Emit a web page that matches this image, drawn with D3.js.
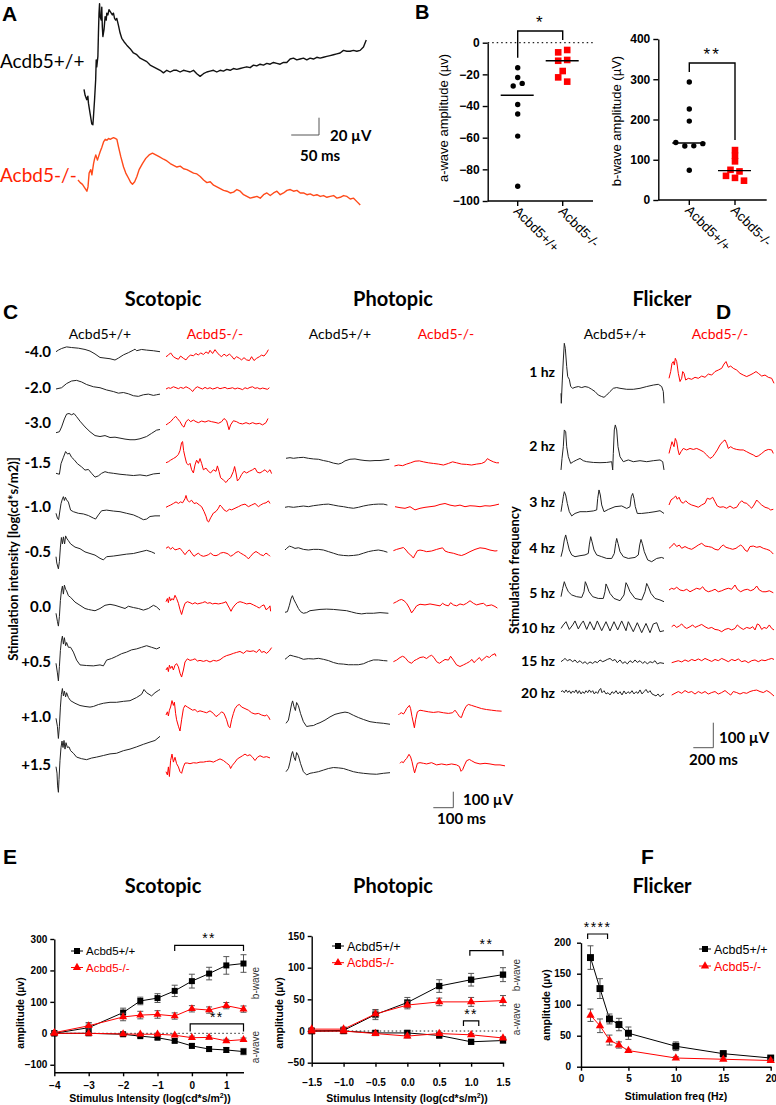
<!DOCTYPE html>
<html><head><meta charset="utf-8">
<script src="https://cdn.jsdelivr.net/npm/d3@7"></script>
<style>body{margin:0;background:#fff}</style>
</head><body>
<script>
// ================= DATA =================
// Panel A traces: flat [ms, µV, ms, µV, ...]
const A_WT = [0,0, 2,-7, 5,-12, 7,-8, 8,-16, 11,-28, 14,-40, 16,-41, 17,-32, 19,-12, 21,11, 22,34, 23,26, 25,38, 26,65, 27,88, 28,99, 29,84, 31,80, 32,95, 33,72, 34,61, 36,69, 38,84, 40,80, 41,88, 43,86, 45,92, 47,90, 49,88, 51,86, 53,88, 55,82, 57,80, 59,82, 62,74, 65,65, 68,59, 72,55, 77,51, 83,47, 89,42, 95,40, 101,36, 107,34, 113,32, 119,28, 125,26, 131,24, 137,22, 143,19, 149,22, 155,20, 161,22, 167,22, 173,20, 179,22, 185,21, 191,20, 197,22, 203,18, 209,15, 215,18, 221,20, 227,21, 233,22, 239,20, 245,22, 251,21, 257,23, 263,22, 269,24, 275,23, 281,24, 287,25, 293,26, 299,25, 305,28, 311,27, 317,29, 323,28, 329,30, 335,29, 341,31, 347,30, 353,29, 359,31, 365,31, 371,35, 377,36, 383,34, 389,35, 395,36, 401,34, 407,36, 413,35, 419,37, 425,36, 431,37, 437,38, 443,39, 449,40, 455,41, 461,42, 467,45, 473,44, 479,44, 485,45, 491,44, 497,45, 503,49, 508,57];
const A_KO = [0,0, 4,-3, 8,-5, 13,-10, 16,-13, 18,-8, 20,8, 23,12, 25,6, 28,19, 30,25, 32,29, 35,23, 37,27, 40,33, 43,38, 46,44, 49,47, 52,46, 55,48, 58,47, 61,48, 64,49, 67,48, 70,47, 73,38, 77,27, 82,15, 86,8, 91,2, 95,-3, 98,-5, 102,-2, 106,4, 110,12, 116,19, 122,25, 128,29, 134,31, 140,29, 146,27, 154,24, 160,22, 166,19, 172,17, 178,15, 184,16, 190,13, 196,12, 202,10, 208,8, 214,7, 220,4, 226,0, 232,-3, 238,-2, 244,-6, 250,-8, 256,-10, 262,-12, 268,-13, 274,-15, 280,-14, 286,-11, 292,-13, 298,-17, 304,-19, 310,-21, 316,-20, 322,-19, 328,-21, 334,-17, 340,-15, 346,-18, 352,-15, 358,-13, 364,-17, 370,-15, 376,-12, 382,-11, 388,-13, 394,-12, 400,-15, 406,-15, 412,-17, 418,-16, 424,-18, 430,-17, 436,-19, 442,-18, 448,-20, 454,-19, 460,-18, 466,-21, 472,-20, 478,-18, 484,-19, 490,-22, 496,-21, 502,-25, 508,-29];

// Panel B values
const B_CATS = ["Acbd5+/+", "Acbd5-/-"];
const B_A_WT = [-15.8, -22, -27.4, -25.7, -39, -45, -59, -90.7];
const B_A_KO = [-6.1, -4.6, -11.4, -10.9, -17.9, -21.9, -24.6];
const B_B_WT = [293, 226, 196, 143, 134, 134.5, 140, 74];
const B_B_KO = [124, 110, 96, 75, 71, 60, 55, 48];

// Panel C rows
const C_SCO_ROWS = ["-4.0","-2.0","-3.0","-1.5","-1.0","-0.5","0.0","+0.5","+1.0","+1.5"];
const C_SCO_WT = [
 [0,0, 12,10, 28,20, 53,30, 78,26, 112,22, 145,14, 170,4, 195,-14, 220,-36, 245,-40, 270,-44, 295,-52, 312,-40, 337,-20, 362,-6, 387,10, 395,16, 403,6, 428,14, 453,10, 487,6, 520,0],
 [0,0, 28,8, 53,34, 78,50, 103,54, 128,44, 153,28, 187,14, 220,8, 253,-6, 287,-16, 312,-26, 337,-22, 362,-30, 387,-42, 412,-46, 437,-36, 462,-32, 487,-40, 503,-36, 520,-32],
 [0,0, 17,6, 28,36, 42,86, 53,116, 65,120, 78,112, 90,120, 103,100, 120,72, 145,36, 170,6, 195,-18, 220,-24, 245,-18, 270,-30, 295,-28, 320,-34, 345,-40, 370,-44, 395,-44, 420,-38, 453,-24, 478,-4, 503,16, 520,20],
 [0,0, 17,-6, 25,60, 37,100, 48,136, 58,120, 67,126, 78,100, 90,86, 107,60, 128,40, 145,20, 162,24, 178,0, 195,-24, 212,-16, 228,0, 245,10, 262,4, 287,0, 320,-6, 353,-10, 387,-14, 420,-10, 453,-16, 487,-4, 520,0],
 [0,0, 7,-30, 13,-40, 20,20, 25,60, 32,90, 37,104, 42,80, 47,100, 53,84, 62,70, 73,20, 87,10, 112,0, 137,-4, 162,-14, 187,-30, 198,-36, 212,-10, 228,16, 253,20, 287,14, 320,10, 353,0, 387,-10, 412,-24, 437,-40, 453,-36, 470,-20, 495,-16, 520,-16],
 [0,0, 4,-40, 12,-76, 17,-30, 22,60, 27,120, 32,80, 37,124, 43,80, 48,130, 53,116, 62,100, 73,80, 95,60, 120,50, 145,30, 170,20, 195,10, 220,-10, 237,-20, 253,0, 287,4, 320,10, 353,16, 387,20, 420,30, 453,40, 478,30, 495,20],
 [0,0, 7,-50, 12,-80, 17,-20, 22,80, 27,140, 32,170, 37,120, 42,176, 48,150, 53,140, 62,110, 73,100, 95,70, 120,50, 145,30, 162,24, 178,20, 195,16, 220,30, 245,50, 270,56, 295,50, 320,40, 345,30, 362,44, 387,36, 412,30, 437,20, 462,30, 487,50, 503,40, 520,20],
 [0,0, 7,-60, 12,-110, 17,-20, 22,80, 27,140, 32,170, 37,120, 42,160, 48,110, 53,130, 62,100, 73,100, 87,70, 103,20, 120,-10, 153,-14, 187,-16, 220,-10, 237,-16, 253,20, 278,30, 303,44, 328,60, 353,70, 378,84, 403,90, 428,100, 453,110, 478,100, 503,90, 520,100],
 [0,0, 7,-50, 12,-126, 17,-50, 22,70, 27,150, 32,186, 37,140, 42,170, 48,134, 53,160, 62,130, 73,110, 95,94, 120,80, 145,74, 170,70, 187,74, 212,86, 237,94, 270,100, 303,100, 337,106, 370,110, 403,130, 428,150, 440,180, 453,160, 478,140, 495,160, 512,174, 520,180],
 [0,0, 5,-40, 8,-120, 12,-160, 15,-80, 20,40, 25,120, 30,160, 35,120, 40,164, 45,110, 50,150, 57,120, 65,124, 73,100, 87,84, 103,60, 128,50, 153,44, 178,54, 203,60, 237,70, 270,80, 303,84, 337,100, 370,110, 403,124, 437,140, 470,154, 495,164, 520,190]
];
const C_SCO_KO = [
 [0,0, 12,10, 23,24, 37,0, 50,-10, 62,-16, 73,4, 87,-10, 100,-20, 112,0, 123,10, 137,6, 150,20, 162,10, 173,24, 187,14, 200,30, 212,20, 220,40, 233,20, 245,44, 253,30, 267,10, 278,0, 290,16, 303,4, 317,16, 328,4, 340,-16, 353,0, 367,-10, 378,-20, 390,-6, 403,-20, 417,-24, 428,0, 440,-24, 453,-10, 467,0, 478,10, 490,4, 503,24, 512,44],
 [0,0, 12,8, 23,4, 37,14, 50,8, 62,2, 73,10, 87,4, 100,14, 112,6, 123,-2, 133,-16, 145,4, 157,14, 170,6, 183,0, 195,10, 207,2, 220,8, 233,0, 245,4, 257,10, 270,2, 283,6, 295,10, 307,2, 320,4, 333,8, 345,0, 357,6, 370,2, 383,-4, 395,8, 407,2, 420,10, 433,14, 445,4, 457,8, 470,0, 483,6, 495,2, 507,-2, 517,8],
 [0,-10, 12,0, 23,10, 37,30, 48,44, 57,30, 70,10, 82,-16, 90,-24, 100,10, 112,24, 123,10, 137,20, 150,10, 162,4, 178,14, 195,8, 212,16, 228,10, 245,6, 262,0, 278,10, 290,30, 303,16, 315,-40, 323,-10, 337,16, 353,10, 367,0, 383,-4, 400,4, 417,-4, 433,4, 450,-4, 467,0, 483,-10, 500,4, 510,30],
 [0,0, 12,6, 23,16, 37,26, 50,36, 62,52, 70,76, 78,126, 83,132, 88,76, 95,36, 103,-4, 112,-14, 120,-4, 128,-44, 137,-64, 145,-14, 153,16, 162,-4, 170,26, 178,-4, 187,-44, 200,-34, 212,-54, 223,-64, 237,-44, 250,-54, 257,-20, 265,-54, 273,-94, 287,-108, 300,-124, 312,-104, 323,-94, 337,-54, 343,-24, 350,-64, 357,-114, 367,-100, 378,-74, 390,-54, 403,-64, 417,-54, 433,-44, 445,-34, 457,-60, 470,-64, 483,-54, 495,-44, 507,-60, 520,-44, 528,-68],
 [0,0, 12,8, 23,14, 37,24, 50,34, 62,24, 73,34, 83,28, 95,54, 100,74, 107,44, 117,34, 128,44, 140,24, 153,28, 167,14, 178,4, 190,-26, 200,-56, 207,-86, 213,-92, 223,-66, 237,-36, 250,-26, 262,-6, 270,14, 278,4, 290,-16, 303,-26, 317,-12, 328,-16, 345,-6, 362,4, 378,14, 395,20, 412,4, 428,14, 445,24, 462,4, 473,14, 487,24, 500,28, 512,40, 520,24],
 [0,0, 12,10, 23,-6, 33,6, 45,-10, 57,-6, 70,0, 83,-20, 95,-40, 107,-20, 117,-10, 128,-30, 140,-50, 150,-40, 162,-30, 173,-44, 187,-50, 200,-46, 212,-40, 223,-30, 237,-44, 250,-46, 262,-40, 273,-30, 287,-26, 300,-30, 312,-36, 323,-50, 337,-40, 350,-26, 362,-20, 373,-30, 387,-40, 400,-50, 412,-66, 423,-50, 437,-30, 450,-20, 462,-30, 473,-40, 487,-46, 500,-30, 512,-40, 520,-50],
 [0,0, 7,20, 12,-6, 17,30, 23,6, 30,20, 37,10, 45,40, 53,20, 62,-10, 70,-50, 78,-80, 87,-40, 95,-10, 107,0, 120,-6, 133,-14, 145,-6, 157,-14, 170,-10, 183,-6, 195,0, 207,-10, 220,-6, 233,-14, 245,-10, 262,-14, 278,-10, 290,-6, 300,0, 308,-20, 317,-40, 325,-60, 333,-40, 345,-20, 357,-6, 370,0, 387,-6, 403,-14, 420,-10, 437,-20, 453,-30, 467,-40, 478,-26, 490,-20, 500,-50, 512,-40, 520,-26, 523,-60],
 [0,0, 7,16, 12,-10, 17,30, 23,10, 30,24, 37,0, 45,30, 53,40, 62,20, 70,-20, 78,-44, 87,0, 95,50, 107,70, 120,60, 133,64, 145,70, 157,56, 170,60, 187,54, 203,60, 220,50, 237,60, 253,56, 270,64, 287,80, 303,90, 320,96, 337,104, 353,110, 370,116, 387,104, 403,120, 420,116, 437,120, 453,110, 467,130, 478,110, 490,116, 503,104, 517,120, 528,140],
 [0,0, 7,20, 12,-6, 17,30, 23,50, 30,90, 37,60, 42,80, 48,10, 53,-30, 62,-70, 70,-100, 78,-30, 87,40, 95,60, 107,50, 120,40, 133,30, 145,34, 157,20, 170,26, 187,20, 203,14, 220,26, 237,10, 250,-10, 262,0, 270,10, 278,20, 290,10, 303,-30, 312,-70, 320,-80, 328,-30, 337,10, 345,40, 357,60, 367,66, 378,50, 395,40, 412,30, 428,14, 445,6, 462,10, 478,0, 495,-6, 503,0, 512,-10, 520,-30],
 [0,0, 7,-20, 12,30, 17,-30, 23,70, 30,110, 37,60, 45,90, 53,50, 62,30, 70,0, 78,-10, 87,30, 95,54, 107,54, 120,50, 137,56, 153,54, 170,60, 187,60, 203,64, 220,66, 237,60, 253,70, 270,80, 287,70, 303,54, 317,40, 323,20, 332,40, 345,60, 357,80, 370,90, 383,100, 395,110, 407,100, 420,106, 433,90, 445,70, 457,90, 470,100, 487,90, 503,94, 520,86]
];
const C_PHO_WT = [
 [5,0, 25,4, 42,0, 67,4, 92,6, 117,0, 142,-4, 167,-6, 192,-14, 217,-20, 242,-30, 267,-36, 283,-30, 300,-16, 325,-6, 350,-4, 375,-10, 400,-14, 425,-16, 450,-14, 475,-14, 500,-10, 522,-6],
 [0,0, 17,4, 42,0, 67,4, 92,8, 117,4, 142,10, 167,14, 192,18, 217,20, 242,14, 267,8, 292,4, 317,-2, 342,-6, 367,0, 392,8, 417,14, 442,18, 467,20, 492,20, 512,14],
 [0,0, 8,10, 22,24, 33,20, 50,10, 67,14, 92,4, 117,0, 142,4, 167,4, 192,0, 217,-10, 242,-20, 267,-30, 292,-34, 317,-36, 342,-34, 367,-30, 392,-20, 417,-10, 442,-4, 467,0, 492,-6, 512,-14],
 [0,0, 12,4, 22,44, 30,84, 37,104, 45,78, 55,54, 67,24, 78,4, 92,-6, 108,-2, 125,10, 150,14, 175,18, 208,20, 242,18, 275,14, 308,10, 333,2, 358,-6, 383,-10, 408,-6, 442,-6, 475,-2, 517,-6],
 [0,0, 12,12, 25,26, 42,20, 67,12, 92,0, 117,4, 142,2, 167,6, 192,0, 217,-8, 242,-20, 267,-28, 292,-30, 317,-34, 342,-34, 367,-34, 392,-28, 417,-14, 442,-4, 467,-4, 492,-8, 512,-10],
 [5,0, 17,20, 25,70, 33,120, 38,140, 45,104, 52,80, 58,130, 67,110, 78,60, 92,10, 108,-20, 125,-16, 142,-14, 158,-4, 175,4, 200,20, 225,40, 250,56, 275,64, 300,70, 317,66, 342,50, 367,36, 392,24, 425,10, 458,4, 492,0, 525,-6],
 [5,0, 17,20, 25,60, 33,110, 38,126, 45,90, 52,70, 58,120, 67,100, 78,50, 92,0, 108,-20, 125,-10, 142,-6, 167,0, 192,10, 217,20, 242,26, 267,24, 292,20, 317,10, 342,0, 367,-6, 392,-10, 425,-14, 458,-16, 492,-10, 525,-6]
];
const C_PHO_KO = [
 [7,0, 27,6, 48,2, 68,12, 88,20, 110,30, 132,32, 152,26, 177,20, 202,16, 227,12, 252,6, 277,16, 298,26, 318,20, 343,12, 368,10, 393,6, 418,12, 443,16, 460,26, 472,46, 485,36, 502,26, 518,20, 530,20],
 [10,0, 35,-6, 60,-10, 85,0, 110,-20, 135,-10, 160,-4, 185,0, 210,4, 235,14, 260,20, 285,10, 310,4, 335,10, 360,0, 385,6, 410,4, 435,0, 460,6, 485,4, 510,10, 530,16],
 [2,0, 18,8, 35,14, 52,20, 65,4, 77,-16, 88,-26, 102,-46, 110,-26, 122,0, 135,4, 152,0, 168,-6, 193,-2, 218,8, 235,14, 248,18, 260,-2, 277,-10, 302,-16, 327,-26, 343,-30, 360,-22, 385,-6, 410,8, 435,18, 460,14, 485,4, 510,-2, 522,0],
 [2,0, 18,10, 32,20, 43,24, 55,16, 68,0, 82,-30, 93,-60, 105,-40, 118,-16, 135,-6, 160,-10, 185,-4, 210,-10, 235,-16, 248,0, 260,-10, 277,-16, 288,4, 302,-10, 318,-16, 335,-4, 352,-10, 368,0, 385,16, 402,0, 418,-10, 435,-4, 452,0, 468,-16, 493,-10, 510,-20, 522,-30],
 [2,0, 18,10, 35,26, 48,34, 60,26, 77,0, 93,-10, 105,6, 118,14, 135,26, 152,30, 168,20, 182,34, 193,40, 205,26, 218,0, 232,-10, 248,4, 260,14, 277,10, 288,34, 302,10, 318,-20, 335,-30, 352,-20, 368,-10, 382,0, 395,14, 405,-6, 418,10, 432,26, 443,6, 455,20, 468,34, 482,26, 493,40, 510,50, 515,34],
 [27,0, 35,10, 43,14, 52,6, 60,20, 68,40, 82,60, 88,40, 95,-10, 102,-50, 107,-80, 113,-30, 122,20, 135,30, 152,26, 177,20, 202,16, 227,20, 252,14, 277,10, 298,14, 310,30, 322,10, 332,-10, 342,-16, 352,20, 365,54, 377,66, 393,60, 418,50, 443,40, 468,34, 493,30, 518,26, 543,24],
 [35,0, 43,10, 52,4, 60,20, 68,30, 80,56, 88,40, 95,10, 102,-30, 108,-60, 115,-30, 122,0, 135,4, 152,0, 168,-4, 193,4, 218,-10, 243,-4, 268,-10, 293,-4, 318,-10, 332,-20, 340,-50, 348,-40, 358,-10, 368,16, 382,24, 393,16, 410,4, 435,-4, 460,0, 485,-4, 510,-10, 535,-10, 560,-16]
];

// Panel D flicker
const D_ROWS = ["1 hz","2 hz","3 hz","4 hz","5 hz","10 hz","15 hz","20 hz"];
const D_WT = [
 [0,-20, 3,-60, 13,33, 23,113, 33,180, 43,160, 57,87, 67,47, 83,36, 97,7, 117,0, 140,4, 173,7, 207,3, 240,7, 273,4, 307,-4, 340,-13, 373,-27, 407,-33, 430,-36, 457,-27, 490,-13, 523,0, 557,3, 590,0, 657,-4, 723,-4, 790,0, 857,7, 923,13, 973,16, 1007,7, 1023,-13, 1030,-60],
 [0,-33, 10,13, 23,60, 33,127, 47,120, 57,60, 73,20, 97,-7, 123,0, 157,7, 190,13, 223,4, 257,0, 323,-3, 390,-4, 457,-3, 507,0, 517,-33, 523,33, 533,127, 543,147, 557,127, 570,60, 590,20, 623,0, 673,7, 723,0, 790,4, 857,0, 923,4, 990,7, 1017,0, 1030,-33],
 [0,0, 13,33, 23,60, 33,80, 47,67, 63,33, 83,0, 107,-17, 140,-7, 190,0, 257,0, 323,3, 357,7, 367,53, 380,87, 393,67, 407,27, 430,0, 473,9, 540,20, 607,23, 657,13, 690,20, 703,60, 717,73, 730,53, 743,20, 763,-7, 807,-7, 873,-4, 940,0, 990,4, 1030,-7],
 [0,0, 17,27, 33,67, 47,87, 63,60, 83,27, 107,7, 140,0, 190,4, 240,7, 273,13, 283,47, 297,80, 310,60, 330,27, 357,7, 407,0, 457,-7, 507,-7, 533,13, 547,53, 557,73, 570,53, 590,20, 623,0, 673,-7, 740,-3, 773,7, 787,47, 800,69, 813,53, 833,20, 867,-13, 907,-20, 957,-7, 1007,-3, 1030,-7],
 [0,0, 17,33, 33,60, 50,40, 73,20, 107,7, 157,0, 207,-3, 230,20, 243,60, 257,47, 280,20, 317,0, 373,-7, 423,-7, 440,20, 450,51, 463,40, 490,13, 530,-7, 590,-16, 630,7, 650,56, 663,47, 690,20, 740,-7, 807,-13, 840,20, 857,53, 873,40, 900,13, 940,-7, 990,-13, 1030,-20],
 [0,-7, 23,7, 50,20, 83,-11, 117,7, 140,23, 173,-9, 200,11, 223,23, 257,-11, 290,20, 330,-13, 363,23, 407,-16, 450,20, 490,-17, 530,20, 567,-13, 607,23, 650,-16, 673,20, 723,-20, 763,16, 807,-24, 850,13, 890,-24, 923,11, 957,16, 990,-20, 1030,-16],
 [0,0, 23,7, 40,13, 63,4, 90,9, 117,0, 140,7, 163,-4, 190,4, 217,-7, 240,0, 263,-9, 290,-1, 317,-7, 340,1, 363,-4, 390,7, 417,0, 440,4, 463,9, 490,13, 517,4, 540,9, 563,-4, 590,7, 617,-7, 640,0, 663,-9, 690,4, 717,-4, 740,7, 763,-3, 790,4, 817,-7, 840,1, 863,-9, 890,0, 917,-4, 940,4, 963,-9, 990,-4, 1030,-7],
 [0,0, 17,4, 33,-4, 50,7, 67,-3, 83,4, 100,-7, 117,3, 133,-4, 150,7, 167,-7, 183,4, 200,-9, 217,0, 233,-7, 250,4, 267,-4, 283,7, 300,-3, 317,4, 333,-9, 350,0, 367,-7, 383,7, 397,13, 410,-4, 430,4, 450,-9, 470,-4, 490,-13, 510,0, 530,-7, 550,4, 570,-9, 590,0, 610,-13, 630,3, 650,-9, 670,0, 690,-7, 710,4, 730,-9, 750,0, 770,-7, 790,7, 810,-9, 830,0, 850,9, 870,-4, 890,4, 910,-9, 930,-13, 950,-17, 970,-9, 990,-20, 1010,-13, 1030,-9]
];
const D_KO = [
 [0,0, 17,27, 30,60, 43,67, 53,53, 63,80, 77,67, 93,20, 110,-13, 127,0, 137,27, 150,20, 167,-7, 193,0, 227,-4, 260,4, 293,0, 327,9, 360,4, 393,17, 427,13, 460,27, 493,33, 527,40, 550,57, 570,67, 593,44, 617,49, 643,40, 677,33, 710,20, 743,13, 777,7, 810,13, 843,20, 870,27, 893,20, 927,9, 960,13, 993,4, 1027,0, 1050,-20],
 [0,-7, 17,20, 30,40, 50,20, 63,53, 77,40, 90,7, 103,-13, 120,0, 143,13, 177,7, 210,13, 243,9, 277,13, 310,7, 343,0, 377,-13, 410,-27, 437,-20, 460,-7, 483,7, 510,27, 537,40, 560,47, 577,33, 593,13, 617,20, 643,13, 677,9, 710,7, 743,7, 777,0, 810,-7, 843,-13, 870,-20, 893,-17, 927,-7, 960,4, 993,9, 1027,7, 1043,-7],
 [0,0, 20,20, 43,27, 67,36, 83,23, 100,31, 120,13, 143,7, 167,17, 193,7, 227,0, 260,-4, 293,-9, 327,0, 360,7, 383,27, 410,23, 437,31, 460,13, 483,-4, 510,-9, 543,-7, 577,-13, 610,-4, 643,-13, 677,-9, 703,7, 727,17, 750,9, 777,7, 803,-4, 827,-13, 850,0, 877,20, 903,9, 927,0, 960,-9, 993,-13, 1017,-20, 1043,-17],
 [0,0, 27,9, 50,20, 77,7, 103,13, 127,0, 160,7, 193,0, 227,-4, 260,4, 293,13, 327,20, 360,9, 393,7, 427,4, 460,-4, 493,-7, 527,9, 543,13, 570,4, 603,0, 637,-4, 670,0, 693,7, 717,13, 737,7, 760,-7, 783,-13, 810,7, 843,9, 877,4, 910,7, 943,0, 977,-4, 1010,-9, 1043,-23],
 [0,0, 27,7, 50,3, 77,11, 110,0, 143,-3, 177,3, 210,-7, 243,0, 277,7, 310,3, 337,13, 360,0, 393,-7, 427,-3, 460,3, 493,-7, 527,-3, 560,3, 593,7, 627,3, 660,20, 683,3, 717,-7, 750,0, 783,3, 817,-3, 850,3, 877,16, 903,0, 937,-7, 970,-7, 1003,-3, 1043,-11],
 [27,0, 50,7, 77,-3, 103,3, 127,11, 150,0, 177,-7, 210,0, 237,7, 260,-3, 293,3, 327,9, 360,0, 393,-7, 427,-3, 460,-11, 493,-13, 527,-20, 560,-11, 593,-7, 627,-13, 660,-7, 683,7, 710,-3, 743,-11, 777,-3, 810,-7, 837,0, 860,-13, 883,11, 903,7, 927,-11, 950,-3, 977,-7, 1003,7, 1027,-7, 1050,-13],
 [27,-4, 60,0, 93,4, 127,-1, 160,7, 193,1, 227,9, 260,4, 293,11, 327,4, 360,13, 393,7, 427,1, 460,9, 493,4, 527,13, 560,7, 593,0, 627,9, 660,4, 693,11, 727,0, 760,4, 793,-4, 827,4, 860,7, 893,0, 927,7, 960,4, 993,9, 1027,13, 1050,9],
 [27,-7, 60,0, 93,7, 127,0, 160,11, 193,3, 227,7, 260,-3, 293,7, 327,0, 360,7, 393,-3, 427,3, 460,7, 493,-3, 527,3, 560,11, 593,0, 617,-7, 643,7, 677,3, 710,-3, 743,3, 777,0, 810,7, 843,11, 877,13, 910,7, 943,3, 977,11, 1010,3, 1050,-11]
];

// Panel E/F summary data
const SCO_X = [-4,-3,-2,-1.5,-1,-0.5,0,0.5,1,1.5];
const SCO_WT_B = [0,18,66,103,112,135,166,190,216,222];
const SCO_WT_B_E = [3,15,14,12,14,18,22,20,28,28];
const SCO_KO_B = [2,24,52,58,60,55,78,74,88,77];
const SCO_KO_B_E = [3,10,12,12,12,10,10,10,10,10];
const SCO_WT_A = [0,0,-3,-9,-14,-24,-40,-50,-53,-58];
const SCO_WT_A_E = [2,3,3,4,5,6,7,8,8,10];
const SCO_KO_A = [0,0,-2,-3,-3,-6,-14,-13,-24,-20];
const SCO_KO_A_E = [2,2,3,3,3,4,5,5,5,5];

const PHO_X = [-1.5,-1,-0.5,0,0.5,1,1.5];
const PHO_WT_B = [0,1,26,45,71,81,89];
const PHO_WT_B_E = [2,5,8,8,10,10,11];
const PHO_KO_B = [3,3,27,41,46,46,48];
const PHO_KO_B_E = [2,3,6,6,6,7,8];
const PHO_WT_A = [0,0,-3,-3,-7,-17,-15];
const PHO_WT_A_E = [2,2,3,4,4,3,3];
const PHO_KO_A = [0,0,-4,-8,-4,-6,-11];
const PHO_KO_A_E = [2,2,2,3,2,2,2];

const FLK_X = [1,2,3,4,5,10,15,20];
const FLK_WT = [176,126,77,68,54,33,21,14];
const FLK_WT_E = [19,16,8,10,10,7,5,3];
const FLK_KO = [83,66,43,35,26,14,12,10];
const FLK_KO_E = [10,11,8,5,2,2,2,2];

// ================= DRAWING =================
const F_ARIAL = "'Liberation Sans', Arial, sans-serif";
const F_CAL = "Lato, 'Open Sans', sans-serif";
const RED = "#ff0000";
const svg = d3.select("body").append("svg").attr("width",776).attr("height",1105);

function txt(x, y, s, o = {}) {
  const t = svg.append("text").attr("x", x).attr("y", y).text(s)
    .attr("font-family", o.ff || F_CAL).attr("font-size", o.fs || 14)
    .attr("font-weight", o.fw || "normal").attr("fill", o.fill || "#000")
    .attr("text-anchor", o.anchor || "start");
  if (o.rot) t.attr("transform", `rotate(${o.rot},${x},${y})`);
  if (o.ls) t.attr("letter-spacing", o.ls);
  return t;
}
const pairs = arr => d3.range(0, arr.length, 2).map(i => [arr[i], arr[i + 1]]);
function trace(arr, xs, ys, x0, y0, color, w) {
  svg.append("path").datum(pairs(arr))
    .attr("d", d3.line().x(d => x0 + xs(d[0])).y(d => y0 + ys(d[1])))
    .attr("fill", "none").attr("stroke", color).attr("stroke-width", w || 1)
    .attr("stroke-linejoin", "round");
}
function scaleBar(cx, cy, xs, ys, tv, ta, lab1, lab2, l1, l2, fs) {
  svg.append("path").attr("d", `M${cx - xs(tv)},${cy}H${cx}V${cy + ys(ta)}`)
    .attr("fill", "none").attr("stroke", "#555").attr("stroke-width", 1);
  txt(l1[0], l1[1], lab1, {fs: fs, fw: "bold"});
  txt(l2[0], l2[1], lab2, {fs: fs, fw: "bold"});
}

// ---------- Panel A ----------
txt(2, 21, "A", {ff: F_ARIAL, fs: 21, fw: "bold"});
txt(0, 68, "Acdb5+/+", {fs: 19});
txt(0, 182, "Acbd5-/-", {fs: 19, fill: "#ff2200"});
const xsA = d3.scaleLinear().domain([0, 500]).range([0, 277.8]);
const ysA = d3.scaleLinear().domain([0, 20]).range([0, -17.3]);
trace(A_WT, xsA, ysA, 84, 89.3, "#111", 1.4);
trace(A_KO, xsA, ysA, 78, 180, "#ff4a1a", 1.4);
scaleBar(319, 135, xsA, ysA, 50, 20, "20 µV", "50 ms", [330, 141], [300, 161], 15);

// ---------- Panel B ----------
txt(415, 19, "B", {ff: F_ARIAL, fs: 20, fw: "bold"});
function dodge(vals, ys, cx, step, thr) {
  const idx = vals.map((v, i) => i).sort((a, b) => ys(vals[a]) - ys(vals[b]));
  const clusters = []; let cur = [idx[0]];
  for (let k = 1; k < idx.length; k++) {
    const i = idx[k];
    if (Math.abs(ys(vals[i]) - ys(vals[cur[0]])) < thr) cur.push(i);
    else { clusters.push(cur); cur = [i]; }
  }
  clusters.push(cur);
  const out = [];
  clusters.forEach(c => { c.sort((a, b) => a - b); c.forEach((i, j) => out[i] = cx + (j - (c.length - 1) / 2) * step); });
  return out;
}
function scatterPanel(o) {
  const g = svg.append("g");
  const ys = o.ys, cx = d3.scalePoint().domain(B_CATS).range(o.cxr);
  const yb = ys.range()[0];
  if (o.zero) g.append("line").attr("x1", o.ax).attr("x2", o.axEnd).attr("y1", ys(0)).attr("y2", ys(0))
    .attr("stroke", "#222").attr("stroke-width", 1.2).attr("stroke-dasharray", "1.5,3");
  const ay = g.append("g").attr("transform", `translate(${o.ax},0)`)
    .call(d3.axisLeft(ys).tickValues(o.yT).tickSize(5).tickPadding(3).tickSizeOuter(0));
  ay.selectAll("path,line").attr("stroke", "#000").attr("stroke-width", 1.4);
  ay.selectAll("text").attr("font-family", F_ARIAL).attr("font-size", 12).attr("font-weight", "bold").attr("fill", "#000");
  g.append("line").attr("x1", o.ax).attr("x2", o.axEnd).attr("y1", yb).attr("y2", yb).attr("stroke", "#000").attr("stroke-width", 1.4);
  B_CATS.forEach(c => {
    g.append("line").attr("x1", cx(c)).attr("x2", cx(c)).attr("y1", yb).attr("y2", yb + 5).attr("stroke", "#000").attr("stroke-width", 1.4);
    g.append("text").attr("x", cx(c) - 5).attr("y", yb + 11).text(c)
      .attr("transform", `rotate(45,${cx(c) - 5},${yb + 11})`)
      .attr("font-family", F_ARIAL).attr("font-size", 13.5).attr("fill", "#000");
  });
  // WT dots
  const wx = dodge(o.wt, ys, cx(B_CATS[0]), 9, 5);
  o.wt.forEach((v, i) => g.append("circle").attr("cx", wx[i]).attr("cy", ys(v)).attr("r", 2.7).attr("fill", "#000"));
  const kx = dodge(o.ko, ys, cx(B_CATS[1]), 9, 5);
  o.ko.forEach((v, i) => g.append("rect").attr("x", kx[i] - 3.3).attr("y", ys(v) - 3.3).attr("width", 6.6).attr("height", 6.6).attr("fill", RED));
  // medians
  [[o.wt, B_CATS[0]], [o.ko, B_CATS[1]]].forEach(([arr, c]) => {
    const m = d3.median(arr);
    g.append("line").attr("x1", cx(c) - 17).attr("x2", cx(c) + 16).attr("y1", ys(m)).attr("y2", ys(m)).attr("stroke", "#000").attr("stroke-width", 1.4);
  });
  // bracket
  const l1 = ys(d3.max(o.wt)) - 10, l2 = ys(d3.max(o.ko)) - 10, top = Math.min(l1, l2) - 9;
  g.append("path").attr("d", `M${cx(B_CATS[0])},${l1}V${top}H${cx(B_CATS[1])}V${l2}`)
    .attr("fill", "none").attr("stroke", "#000").attr("stroke-width", 1.4);
  g.append("text").attr("x", (cx(B_CATS[0]) + cx(B_CATS[1])) / 2).attr("y", top - 3).text(o.star)
    .attr("text-anchor", "middle").attr("font-family", F_ARIAL).attr("font-size", 17).attr("letter-spacing", 2);
  // y title
  g.append("text").attr("transform", `translate(${o.tx},${o.ty}) rotate(-90)`).text(o.title)
    .attr("text-anchor", "middle").attr("font-family", F_ARIAL).attr("font-size", 13).attr("fill", "#000");
}
scatterPanel({ys: d3.scaleLinear().domain([-100, 0]).range([201, 42.7]), ax: 487.7, axEnd: 593, cxr: [517.7, 562.7],
  yT: [0, -20, -40, -60, -80, -100], wt: B_A_WT, ko: B_A_KO, zero: true, star: "*", title: "a-wave amplitude (µv)", tx: 448, ty: 118});
scatterPanel({ys: d3.scaleLinear().domain([0, 400]).range([200, 39]), ax: 658.3, axEnd: 766.7, cxr: [689.3, 735],
  yT: [0, 100, 200, 300, 400], wt: B_B_WT, ko: B_B_KO, zero: false, star: "**", title: "b-wave amplitude (µV)", tx: 621, ty: 121});

// ---------- Panel C ----------
txt(3, 319, "C", {ff: F_ARIAL, fs: 21, fw: "bold"});
txt(163, 306, "Scotopic", {fs: 20, fw: "bold", anchor: "middle"});
txt(393, 306, "Photopic", {fs: 20, fw: "bold", anchor: "middle"});
txt(100, 339, "Acbd5+/+", {fs: 14, anchor: "middle"});
txt(215, 339, "Acbd5-/-", {fs: 14, anchor: "middle", fill: RED});
txt(340, 339, "Acbd5+/+", {fs: 14, anchor: "middle"});
txt(446, 339, "Acbd5-/-", {fs: 14, anchor: "middle", fill: RED});
const C_LABEL_Y = [352, 388, 423, 463, 507, 552, 607, 662, 717, 765];
const C_WT_BASE = [351.7, 389, 432.7, 473.3, 513.3, 556.7, 613.3, 663.3, 718.3, 766.7];
const C_KO_BASE = [356.7, 389, 423.3, 462.7, 507.3, 548.3, 601.7, 670, 715, 771.7];
const P_WT_BASE = [458.3, 507.3, 550, 612.3, 659.3, 723.3, 771.7];
const P_KO_BASE = [466, 506.7, 550.7, 603.3, 661.7, 715, 763.3];
const xsC = d3.scaleLinear().domain([0, 520]).range([0, 104]);
const ysC = d3.scaleLinear().domain([0, 100]).range([0, -16]);
C_SCO_ROWS.forEach((r, i) => {
  txt(51, C_LABEL_Y[i] + 5, r, {fs: 15, fw: "bold", anchor: "end"});
  trace(C_SCO_WT[i], xsC, ysC, 56, C_WT_BASE[i], "#222", 1);
  trace(C_SCO_KO[i], xsC, ysC, 166, C_KO_BASE[i], RED, 1);
});
C_PHO_WT.forEach((d, i) => {
  trace(d, xsC, ysC, 285, P_WT_BASE[i], "#222", 1);
  trace(C_PHO_KO[i], xsC, ysC, 393, P_KO_BASE[i], RED, 1);
});
txt(18, 559, "Stimulation intensity [log(cd*s/m2)]", {fs: 13, fw: "bold", anchor: "middle", rot: -90});
scaleBar(453.3, 807.7, xsC, ysC, 100, 100, "100 µV", "100 ms", [463, 805], [437, 824], 15);

// ---------- Panel D ----------
txt(716, 319, "D", {ff: F_ARIAL, fs: 21, fw: "bold"});
txt(662, 306, "Flicker", {fs: 20, fw: "bold", anchor: "middle"});
txt(615, 339, "Acbd5+/+", {fs: 14, anchor: "middle"});
txt(720, 339, "Acbd5-/-", {fs: 14, anchor: "middle", fill: RED});
const D_LABEL_Y = [372, 446, 502, 548, 593, 628, 661, 693];
const D_WT_BASE = [388.3, 461.7, 511.7, 556.7, 596.7, 626.7, 661.7, 691.7];
const D_KO_BASE = [378.3, 451.7, 505, 548.3, 590, 626.7, 661.7, 693.3];
const xsD = d3.scaleLinear().domain([0, 1040]).range([0, 104]);
const ysD = d3.scaleLinear().domain([0, 100]).range([0, -25]);
D_ROWS.forEach((r, i) => {
  txt(555, D_LABEL_Y[i] + 5, r, {fs: 14, fw: "bold", anchor: "end"});
  trace(D_WT[i], xsD, ysD, 561, D_WT_BASE[i], "#222", 1);
  trace(D_KO[i], xsD, ysD, 669, D_KO_BASE[i], RED, 1);
});
txt(519, 570, "Stimulation frequency", {fs: 13, fw: "bold", anchor: "middle", rot: -90});
scaleBar(713.3, 747.7, xsD, ysD, 200, 100, "100 µV", "200 ms", [719, 743], [689, 765], 15);

// ---------- Panels E & F ----------
txt(3, 864, "E", {ff: F_ARIAL, fs: 21, fw: "bold"});
txt(641, 864, "F", {ff: F_ARIAL, fs: 21, fw: "bold"});
txt(163, 893, "Scotopic", {fs: 20, fw: "bold", anchor: "middle"});
txt(393, 893, "Photopic", {fs: 20, fw: "bold", anchor: "middle"});
txt(662, 893, "Flicker", {fs: 20, fw: "bold", anchor: "middle"});

const SQ = d3.symbolSquare, TRI = d3.symbolTriangle;
function lineChart(o) {
  const g = svg.append("g");
  const [x0, x1] = o.xs.range(); const yb = o.ys.range()[0];
  if (o.zero) g.append("line").attr("x1", x0).attr("x2", x1).attr("y1", o.ys(0)).attr("y2", o.ys(0))
    .attr("stroke", "#222").attr("stroke-width", 1).attr("stroke-dasharray", "1.5,2.5");
  const ax = g.append("g").attr("transform", `translate(${x0},0)`)
    .call(d3.axisLeft(o.ys).tickValues(o.yT).tickSize(4).tickPadding(o.yPad || 3).tickSizeOuter(0));
  const bx = g.append("g").attr("transform", `translate(0,${yb})`)
    .call(d3.axisBottom(o.xs).tickValues(o.xT).tickFormat(o.xF).tickSize(4).tickPadding(o.xPad || 4).tickSizeOuter(0));
  [ax, bx].forEach(a => {
    a.selectAll("path,line").attr("stroke", "#000").attr("stroke-width", 1.4);
    a.selectAll("text").attr("font-family", F_ARIAL).attr("font-size", 10).attr("font-weight", "bold").attr("fill", "#000");
  });
  o.series.forEach(s => {
    const pts = o.X.map((x, i) => ({x, y: s.v[i], e: s.e[i]}));
    g.append("path").datum(pts).attr("d", d3.line().x(d => o.xs(d.x)).y(d => o.ys(d.y)))
      .attr("fill", "none").attr("stroke", s.c).attr("stroke-width", 1);
    const eb = g.append("g").attr("stroke", "#555").attr("stroke-width", 1);
    pts.forEach(d => {
      const x = o.xs(d.x), yt = o.ys(d.y + d.e), yl = o.ys(d.y - d.e);
      eb.append("line").attr("x1", x).attr("x2", x).attr("y1", yt).attr("y2", yl);
      eb.append("line").attr("x1", x - 3).attr("x2", x + 3).attr("y1", yt).attr("y2", yt);
      eb.append("line").attr("x1", x - 3).attr("x2", x + 3).attr("y1", yl).attr("y2", yl);
    });
    g.selectAll(null).data(pts).join("path")
      .attr("transform", d => `translate(${o.xs(d.x)},${o.ys(d.y)})`)
      .attr("d", d3.symbol(s.sym, s.size)()).attr("fill", s.c);
  });
  // brackets
  (o.brackets || []).forEach(b => {
    const xa = o.xs(b.x0), xb = o.xs(b.x1), yt = o.ys(b.top), yl = o.ys(b.leg);
    g.append("path").attr("d", `M${xa},${yl}V${yt}H${xb}V${yl}`).attr("fill", "none").attr("stroke", "#000").attr("stroke-width", 1.2);
    g.append("text").attr("x", (xa + xb) / 2).attr("y", yt - 2).text(b.s).attr("text-anchor", "middle")
      .attr("font-family", F_ARIAL).attr("font-size", 14).attr("letter-spacing", 1.5);
  });
  // legend
  const L = o.legend;
  [["Acbd5+/+", "#000", SQ, 36], ["Acbd5-/-", RED, TRI, 30]].forEach(([lab, c, sym, sz], i) => {
    const y = L.y + i * L.gap;
    g.append("line").attr("x1", L.x).attr("x2", L.x + 12).attr("y1", y).attr("y2", y).attr("stroke", c).attr("stroke-width", 1);
    g.append("path").attr("transform", `translate(${L.x + 6},${y})`).attr("d", d3.symbol(sym, sz)()).attr("fill", c);
    g.append("text").attr("x", L.x + 15).attr("y", y + L.fs * 0.36).text(lab).attr("fill", c)
      .attr("font-family", F_ARIAL).attr("font-size", L.fs);
  });
  // titles
  const tt = g.append("text").attr("x", o.xt[0]).attr("y", o.xt[1]).attr("text-anchor", "middle")
    .attr("font-family", F_ARIAL).attr("font-size", 10.5).attr("font-weight", "bold");
  o.xTitle.forEach(p => tt.append("tspan").text(p[0]).attr("dy", p[1]).attr("font-size", p[2] || null));
  g.append("text").attr("transform", `translate(${o.yt[0]},${o.yt[1]}) rotate(-90)`).text("amplitude (µv)")
    .attr("text-anchor", "middle").attr("font-family", F_ARIAL).attr("font-size", 10.5).attr("font-weight", "bold");
  (o.waves || []).forEach(w => g.append("text").attr("transform", `translate(${w[1]},${w[2]}) rotate(-90)`).text(w[0])
    .attr("text-anchor", "middle").attr("font-family", F_ARIAL).attr("font-size", 10).attr("fill", "#333"));
}
const STIM_TITLE = [["Stimulus Intensity (log(cd*s/m", 0], ["2", -4, "7px"], ["))", 4]];
lineChart({
  xs: d3.scaleLinear().domain([-4, 1.5]).range([54.3, 243.5]),
  ys: d3.scaleLinear().domain([-124, 300]).range([1072.3, 939]),
  X: SCO_X, xT: [-4, -3, -2, -1, 0, 1], xF: d3.format("d"), yT: [-100, 0, 100, 200, 300], zero: true, xPad: 6,
  series: [
    {v: SCO_WT_B, e: SCO_WT_B_E, c: "#000", sym: SQ, size: 36},
    {v: SCO_WT_A, e: SCO_WT_A_E, c: "#000", sym: SQ, size: 36},
    {v: SCO_KO_B, e: SCO_KO_B_E, c: RED, sym: TRI, size: 28},
    {v: SCO_KO_A, e: SCO_KO_A_E, c: RED, sym: TRI, size: 28}],
  brackets: [{x0: -0.5, x1: 1.5, top: 280, leg: 262, s: "**"}, {x0: -0.05, x1: 1.5, top: 30, leg: 6, s: "**"}],
  legend: {x: 71, y: 951, gap: 16.5, fs: 11.5},
  xt: [150, 1102], xTitle: STIM_TITLE, yt: [24, 1013],
  waves: [["b-wave", 259, 983], ["a-wave", 259, 1047]]
});
lineChart({
  xs: d3.scaleLinear().domain([-1.5, 1.5]).range([311.7, 503]),
  ys: d3.scaleLinear().domain([-50, 150]).range([1062.7, 936]),
  X: PHO_X, xT: [-1.5, -1, -0.5, 0, 0.5, 1, 1.5], xF: d3.format(".1f"), yT: [-50, 0, 50, 100, 150], zero: true, xPad: 12,
  series: [
    {v: PHO_WT_B, e: PHO_WT_B_E, c: "#000", sym: SQ, size: 40},
    {v: PHO_WT_A, e: PHO_WT_A_E, c: "#000", sym: SQ, size: 40},
    {v: PHO_KO_B, e: PHO_KO_B_E, c: RED, sym: TRI, size: 30},
    {v: PHO_KO_A, e: PHO_KO_A_E, c: RED, sym: TRI, size: 30}],
  brackets: [{x0: 0.98, x1: 1.5, top: 127, leg: 119, s: "**"}, {x0: 0.88, x1: 1.12, top: 16, leg: 8, s: "**"}],
  legend: {x: 332, y: 946, gap: 16.7, fs: 12.5},
  xt: [407, 1102], xTitle: STIM_TITLE, yt: [283, 1013],
  waves: [["b-wave", 520, 975], ["a-wave", 520, 1019]]
});
lineChart({
  xs: d3.scaleLinear().domain([0, 20]).range([581, 770.7]),
  ys: d3.scaleLinear().domain([0, 200]).range([1066.7, 942.7]),
  X: FLK_X, xT: [0, 5, 10, 15, 20], xF: d3.format("d"), yT: [0, 50, 100, 150, 200], zero: false, xPad: 4, yPad: 6,
  series: [
    {v: FLK_WT, e: FLK_WT_E, c: "#000", sym: SQ, size: 48},
    {v: FLK_KO, e: FLK_KO_E, c: RED, sym: TRI, size: 30}],
  brackets: [{x0: 0.7, x1: 2.8, top: 214, leg: 206, s: "****"}],
  legend: {x: 699, y: 949, gap: 17, fs: 12.5},
  xt: [676, 1100], xTitle: [["Stimulation freq (Hz)", 0]], yt: [550, 1005]
});
</script>
</body></html>
